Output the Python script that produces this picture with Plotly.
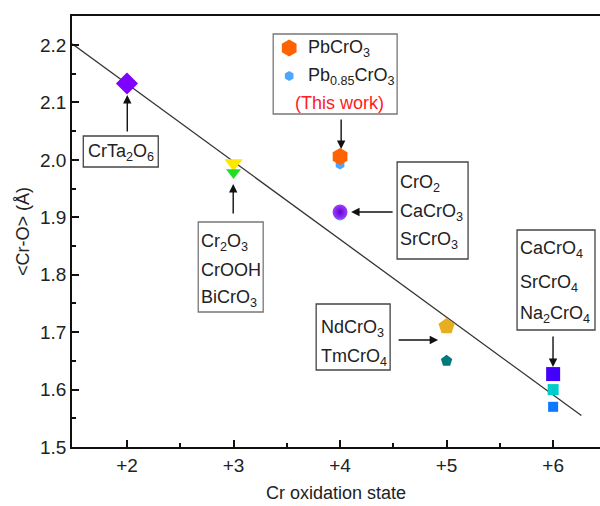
import plotly.graph_objects as go

# ---- data ----
ox_states = [2, 3, 4, 5, 6]
tick_labels = ["+2", "+3", "+4", "+5", "+6"]

crta_x = [2]; crta_y = [2.133]
cr3_x = [3, 3]; cr3_y = [1.994, 1.978]
cr3_colors = ["#FFE800", "#22DD22"]
pb_x = [4, 4]; pb_y = [2.006, 1.992]
pb_colors = ["#FF6200", "#4DA6FF"]
pb_sizes = [17, 10]
cr4_x = [4, 4]; cr4_y = [1.905, 1.909]
cr4_colors = ["#10E0E0", "#A040FF"]
cr5_x = [5, 5]; cr5_y = [1.710, 1.650]
cr5_colors = ["#E8AE22", "#007A7A"]
cr5_sizes = [17, 12]
cr6_x = [6, 6, 6]; cr6_y = [1.627, 1.600, 1.570]
cr6_colors = ["#4400FF", "#00CCCC", "#0A78FF"]
cr6_sizes = [14, 11, 10]

fit_x = [1.485, 6.265]
fit_intercept = 2.2
fit_slope = -0.1354
fit_y = [fit_intercept + fit_slope * (x - 1.5) for x in fit_x]

# ---- pixel helpers for annotation placement ----
X0, XS = 126.7, 106.6
Y0, YS = 45.0, 574.3
def dx(px): return 2 + (px - X0) / XS
def dy(py): return 2.2 - (py - Y0) / YS

FONT = "Liberation Sans, Arial, sans-serif"
TS = 18

def mk(**kw):
    d = dict(opacity=1, line=dict(width=0))
    d.update(kw)
    return d

fig = go.Figure()

fig.add_trace(go.Scatter(x=fit_x, y=fit_y, mode="lines",
                         line=dict(color="#333333", width=1.3), showlegend=False))
fig.add_trace(go.Scatter(x=crta_x, y=crta_y, mode="markers",
                         marker=mk(symbol="diamond", size=17, color="#8000FF")))
fig.add_trace(go.Scatter(x=cr3_x, y=cr3_y, mode="markers",
                         marker=mk(symbol="triangle-down", size=[16, 13], color=cr3_colors)))
fig.add_trace(go.Scatter(x=pb_x[::-1], y=pb_y[::-1], mode="markers",
                         marker=mk(symbol="hexagon", size=pb_sizes[::-1], color=pb_colors[::-1])))
fig.add_trace(go.Scatter(x=cr4_x, y=cr4_y, mode="markers",
                         marker=mk(symbol="circle", size=[12, 15], color=cr4_colors,
                                   gradient=dict(type="radial", color=["#00C8C8", "#6000D0"]))))
fig.add_trace(go.Scatter(x=cr5_x, y=cr5_y, mode="markers",
                         marker=mk(symbol="pentagon", size=cr5_sizes, color=cr5_colors)))
fig.add_trace(go.Scatter(x=cr6_x, y=cr6_y, mode="markers",
                         marker=mk(symbol="square", size=cr6_sizes, color=cr6_colors)))
fig.add_trace(go.Scatter(x=[dx(289), dx(289)], y=[dy(48), dy(76)], mode="markers",
                         marker=mk(symbol="hexagon", size=[17, 10], color=pb_colors)))

shapes = []
annotations = []

def box(x1, y1, x2, y2, color="#444444"):
    shapes.append(dict(type="rect", xref="x", yref="y",
                       x0=dx(x1), x1=dx(x2), y0=dy(y1), y1=dy(y2),
                       line=dict(color=color, width=1.3), fillcolor="rgba(0,0,0,0)"))

def text(px, py, s, anchor="left", color="#222222", size=TS):
    annotations.append(dict(x=dx(px), y=dy(py), xref="x", yref="y", text=s,
                            showarrow=False, xanchor=anchor, yanchor="middle",
                            font=dict(family=FONT, size=size, color=color)))

def arrow(px1, py1, px2, py2):
    annotations.append(dict(x=dx(px2), y=dy(py2), ax=dx(px1), ay=dy(py1),
                            xref="x", yref="y", axref="x", ayref="y", text="",
                            showarrow=True, arrowhead=2, arrowsize=1.2, arrowwidth=1.4,
                            arrowcolor="#111111"))

box(83, 136, 158, 167)
text(120.5, 152, "CrTa<sub>2</sub>O<sub>6</sub>", anchor="center")
arrow(127, 133, 127, 95)

box(198, 222, 263, 312, color="#777777")
text(199, 242, "Cr<sub>2</sub>O<sub>3</sub>")
text(199, 270, "CrOOH")
text(199, 298, "BiCrO<sub>3</sub>")
arrow(233, 215, 233, 184)

box(273, 34, 397, 114, color="#777777")
text(306, 48, "PbCrO<sub>3</sub>")
text(306, 76, "Pb<sub>0.85</sub>CrO<sub>3</sub>")
text(339, 103, "(This work)", anchor="center", color="#FF2020")
arrow(341, 118, 341, 149)

box(397, 162, 468, 259)
text(398, 183, "CrO<sub>2</sub>")
text(398, 212, "CaCrO<sub>3</sub>")
text(398, 240, "SrCrO<sub>3</sub>")
arrow(394, 212, 351, 212)

box(316, 304, 390, 370)
text(319, 328, "NdCrO<sub>3</sub>")
text(319, 357, "TmCrO<sub>4</sub>")
arrow(397, 340, 438, 340)

box(517, 230, 595, 330)
text(518, 249, "CaCrO<sub>4</sub>")
text(518, 283, "SrCrO<sub>4</sub>")
text(518, 314, "Na<sub>2</sub>CrO<sub>4</sub>")
arrow(553, 335, 553, 367)

fig.update_layout(
    width=600, height=506,
    margin=dict(l=72, r=0, t=16, b=59),
    plot_bgcolor="white", paper_bgcolor="white",
    font=dict(family=FONT, size=TS, color="#222222"),
    shapes=shapes, annotations=annotations,
    showlegend=False,
)
fig.update_xaxes(range=[dx(71.7), dx(600)], tickvals=ox_states, ticktext=tick_labels,
                 ticks="inside", ticklen=7, tickwidth=1.5, tickcolor="#111111",
                 showline=True, linecolor="#111111", linewidth=1.8, mirror=True,
                 showgrid=False, zeroline=False,
                 minor=dict(tickvals=[2.5, 3.5, 4.5, 5.5], ticks="inside", ticklen=4,
                            tickcolor="#111111", tickwidth=1.5),
                 title=dict(text="Cr oxidation state", font=dict(size=18), standoff=12),
                 tickfont=dict(size=19))
fig.update_yaxes(range=[dy(447), dy(16)], tickvals=[1.5, 1.6, 1.7, 1.8, 1.9, 2.0, 2.1, 2.2],
                 tickformat=".1f",
                 ticks="inside", ticklen=7, tickwidth=1.5, tickcolor="#111111",
                 showline=True, linecolor="#111111", linewidth=1.8,
                 showgrid=False, zeroline=False,
                 minor=dict(tickvals=[1.55, 1.65, 1.75, 1.85, 1.95, 2.05, 2.15],
                            ticks="inside", ticklen=4, tickcolor="#111111", tickwidth=1.5),
                 title=dict(text="<Cr-O> (Å)", font=dict(size=18), standoff=6),
                 tickfont=dict(size=19))

fig.write_html("out.html")
